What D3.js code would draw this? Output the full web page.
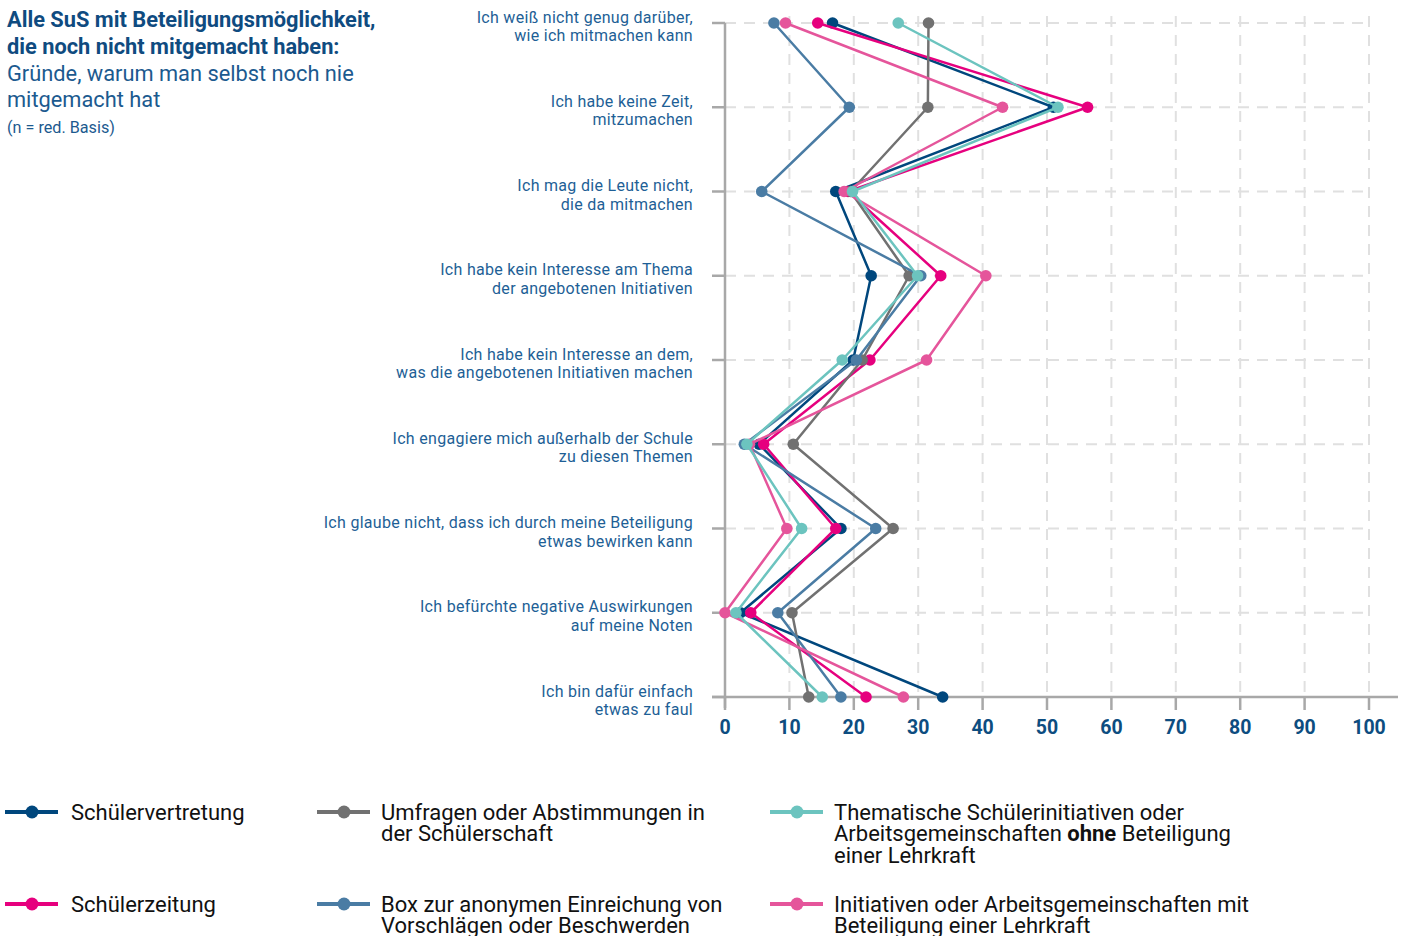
<!DOCTYPE html>
<html lang="de">
<head>
<meta charset="utf-8">
<script src="https://cdn.jsdelivr.net/npm/d3@7"></script>
<style>
  html, body { margin: 0; padding: 0; background: #fff; }
  svg { display: block; font-family: Roboto, "Noto Sans", sans-serif; }
</style>
</head>
<body>
<svg id="chart" width="1406" height="936"></svg>
<script>
// Reasons (two-line labels)
const categories = [
  ["Ich weiß nicht genug darüber,", "wie ich mitmachen kann"],
  ["Ich habe keine Zeit,", "mitzumachen"],
  ["Ich mag die Leute nicht,", "die da mitmachen"],
  ["Ich habe kein Interesse am Thema", "der angebotenen Initiativen"],
  ["Ich habe kein Interesse an dem,", "was die angebotenen Initiativen machen"],
  ["Ich engagiere mich außerhalb der Schule", "zu diesen Themen"],
  ["Ich glaube nicht, dass ich durch meine Beteiligung", "etwas bewirken kann"],
  ["Ich befürchte negative Auswirkungen", "auf meine Noten"],
  ["Ich bin dafür einfach", "etwas zu faul"]
];

// Percent values per participation format, one per reason
const schuelervertretung = [16.7, 51.0, 17.2, 22.7, 19.9, 5.3, 18.0, 2.4, 33.8];
const schuelerzeitung    = [14.4, 56.3, 19.1, 33.5, 22.5, 6.0, 17.2, 4.0, 21.9];
const umfragen           = [31.6, 31.5, 19.5, 28.6, 21.3, 10.6, 26.1, 10.4, 13.0];
const box                = [7.6, 19.3, 5.7, 30.4, 20.4, 3.0, 23.4, 8.2, 18.0];
const initiativenMit     = [9.4, 43.1, 18.5, 40.5, 31.3, 3.8, 9.6, 0.0, 27.7];
const thematischOhne     = [26.9, 51.7, 19.8, 29.9, 18.2, 3.4, 11.9, 1.7, 15.1];

const xTicks = [0, 10, 20, 30, 40, 50, 60, 70, 80, 90, 100];

// Series in drawing order (later ones on top)
const series = [
  { key: "sv",  values: schuelervertretung, color: "#00477d" },
  { key: "sz",  values: schuelerzeitung,    color: "#e6007e" },
  { key: "um",  values: umfragen,           color: "#717171" },
  { key: "box", values: box,                color: "#4a7ca4" },
  { key: "mit", values: initiativenMit,     color: "#e5559b" },
  { key: "ohne",values: thematischOhne,     color: "#6cc4bf" }
];

// Legend entries (column, row), text lines with optional bold parts
const legendItems = [
  { key: "sv",  col: 0, row: 0, lines: [[["Schülervertretung", false]]] },
  { key: "um",  col: 1, row: 0, lines: [[["Umfragen oder Abstimmungen in", false]], [["der Schülerschaft", false]]] },
  { key: "ohne",col: 2, row: 0, lines: [[["Thematische Schülerinitiativen oder", false]], [["Arbeitsgemeinschaften ", false], ["ohne", true], [" Beteiligung", false]], [["einer Lehrkraft", false]]] },
  { key: "sz",  col: 0, row: 1, lines: [[["Schülerzeitung", false]]] },
  { key: "box", col: 1, row: 1, lines: [[["Box zur anonymen Einreichung von", false]], [["Vorschlägen oder Beschwerden", false]]] },
  { key: "mit", col: 2, row: 1, lines: [[["Initiativen oder Arbeitsgemeinschaften mit", false]], [["Beteiligung einer Lehrkraft", false]]] }
];

const svg = d3.select("#chart");

const x = d3.scaleLinear().domain([0, 100]).range([725, 1369]);
const y = d3.scalePoint().domain(d3.range(categories.length)).range([23, 697]);

const gridColor = "#e0e0e0";
const axisColor = "#a8a8a8";

// Horizontal dashed gridlines
svg.append("g").selectAll("line")
  .data(d3.range(categories.length))
  .join("line")
  .attr("x1", x(0)).attr("x2", x(100))
  .attr("y1", d => y(d)).attr("y2", d => y(d))
  .attr("stroke", gridColor).attr("stroke-width", 2)
  .attr("stroke-dasharray", "11,8");

// Vertical dashed gridlines
svg.append("g").selectAll("line")
  .data(xTicks.filter(t => t > 0))
  .join("line")
  .attr("x1", d => x(d)).attr("x2", d => x(d))
  .attr("y1", 16).attr("y2", y(categories.length - 1))
  .attr("stroke", gridColor).attr("stroke-width", 2)
  .attr("stroke-dasharray", "11,8");

// Y axis with tick marks
const yAxis = svg.append("g");
yAxis.append("line")
  .attr("x1", x(0)).attr("x2", x(0))
  .attr("y1", y(0)).attr("y2", y(categories.length - 1) + 11)
  .attr("stroke", axisColor).attr("stroke-width", 2.5);
yAxis.selectAll("line.tick")
  .data(d3.range(categories.length))
  .join("line").attr("class", "tick")
  .attr("x1", 712).attr("x2", x(0))
  .attr("y1", d => y(d)).attr("y2", d => y(d))
  .attr("stroke", axisColor).attr("stroke-width", 2.5);

// Category labels
const catLabels = svg.append("g")
  .attr("font-size", 16).attr("letter-spacing", 0.3)
  .attr("fill", "#1e5f96").attr("text-anchor", "end");
categories.forEach((lines, i) => {
  const t = catLabels.append("text").attr("x", 693).attr("y", y(i) - 0.5);
  lines.forEach((ln, j) => {
    t.append("tspan").attr("x", 693).attr("dy", j === 0 ? 0 : 18.5).text(ln);
  });
});

// X axis
const xAxisY = y(categories.length - 1);
const xAxis = svg.append("g");
xAxis.append("line")
  .attr("x1", 712).attr("x2", 1398)
  .attr("y1", xAxisY).attr("y2", xAxisY)
  .attr("stroke", axisColor).attr("stroke-width", 2.5);
xAxis.selectAll("line.tick")
  .data(xTicks)
  .join("line").attr("class", "tick")
  .attr("x1", d => x(d)).attr("x2", d => x(d))
  .attr("y1", xAxisY).attr("y2", xAxisY + 13)
  .attr("stroke", axisColor).attr("stroke-width", 2.5);
xAxis.selectAll("text")
  .data(xTicks)
  .join("text")
  .attr("x", d => x(d)).attr("y", xAxisY + 37)
  .attr("text-anchor", "middle")
  .attr("font-size", 19.5).attr("font-weight", 700).attr("fill", "#0d4d80")
  .text(d => d);

// Lines and dots
const line = d3.line().x(d => x(d.v)).y(d => y(d.i));
const marks = svg.append("g");
series.forEach(s => {
  const pts = s.values.map((v, i) => ({ v, i }));
  const g = marks.append("g");
  g.append("path")
    .attr("d", line(pts))
    .attr("fill", "none").attr("stroke", s.color)
    .attr("stroke-width", 2.5).attr("stroke-linejoin", "round");
  g.selectAll("circle")
    .data(pts).join("circle")
    .attr("cx", d => x(d.v)).attr("cy", d => y(d.i))
    .attr("r", 5.8).attr("fill", s.color);
});

// Title block
const title = svg.append("g");
title.append("text").attr("x", 7).attr("y", 26.5)
  .attr("font-size", 21.8).attr("font-weight", 700).attr("fill", "#0f4b80")
  .text("Alle SuS mit Beteiligungsmöglichkeit,");
title.append("text").attr("x", 7).attr("y", 53.5)
  .attr("font-size", 21.8).attr("font-weight", 700).attr("fill", "#0f4b80")
  .text("die noch nicht mitgemacht haben:");
title.append("text").attr("x", 7).attr("y", 80.5)
  .attr("font-size", 21.8).attr("fill", "#1c5a8f")
  .text("Gründe, warum man selbst noch nie");
title.append("text").attr("x", 7).attr("y", 106.5)
  .attr("font-size", 21.8).attr("fill", "#1c5a8f")
  .text("mitgemacht hat");
title.append("text").attr("x", 7).attr("y", 133)
  .attr("font-size", 16.2).attr("fill", "#1c5a8f")
  .text("(n = red. Basis)");

// Legend
const colX = [5, 317, 770];
const colTextX = [71, 381, 834];
const rowY = [812, 904];
const colorOf = Object.fromEntries(series.map(s => [s.key, s.color]));
const legend = svg.append("g");
legendItems.forEach(item => {
  const lx = colX[item.col], ly = rowY[item.row], tx = colTextX[item.col];
  const c = colorOf[item.key];
  legend.append("line")
    .attr("x1", lx).attr("x2", lx + 53)
    .attr("y1", ly).attr("y2", ly)
    .attr("stroke", c).attr("stroke-width", 4);
  legend.append("circle")
    .attr("cx", lx + 27).attr("cy", ly).attr("r", 6.5).attr("fill", c);
  const t = legend.append("text")
    .attr("x", tx).attr("y", ly + 7.5)
    .attr("font-size", 22).attr("fill", "#111");
  item.lines.forEach((parts, j) => {
    parts.forEach((p, k) => {
      const ts = t.append("tspan").text(p[0]);
      if (k === 0) ts.attr("x", tx).attr("dy", j === 0 ? 0 : 21.5);
      if (p[1]) ts.attr("font-weight", 700);
    });
  });
});
</script>
</body>
</html>
